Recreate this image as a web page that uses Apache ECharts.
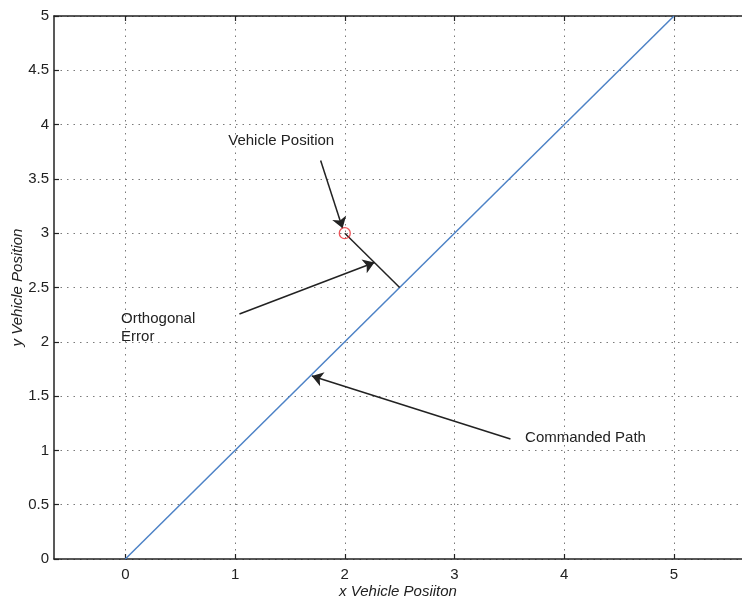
<!DOCTYPE html>
<html>
<head>
<meta charset="utf-8">
<script src="https://cdn.jsdelivr.net/npm/echarts@6/dist/echarts.min.js"></script>
<style>
  html, body { margin: 0; padding: 0; background: #fff; }
  #chart { width: 742px; height: 596px; }
</style>
</head>
<body>
<div id="chart"></div>
<script>
// Axis ticks
const xTicks = [0, 1, 2, 3, 4, 5];
const yTicks = [0, 0.5, 1, 1.5, 2, 2.5, 3, 3.5, 4, 4.5, 5];

// Commanded path (straight line through the origin)
const pathX = [0, 5];
const pathY = [0, 5];

// Vehicle position and its orthogonal projection onto the path
const vehiclePos = [2, 3];
const pathFoot = [2.5, 2.5];

// Annotation arrows: tail -> head, in data units
const arrowFrom = [[1.78, 3.67], [1.04, 2.256], [3.51, 1.105]];
const arrowTo = [[1.98, 3.045], [2.27, 2.73], [1.70, 1.685]];

// Annotation texts and their left/middle anchor points
const noteText = ['Vehicle Position', 'Orthogonal\nError', 'Commanded Path'];
const noteAt = [[0.938, 3.853], [-0.039, 2.127], [3.643, 1.114]];

const FONT = 'Liberation Sans, Arial, Helvetica, sans-serif';
const INK = '#222';

const chart = echarts.init(document.getElementById('chart'), null, { renderer: 'canvas' });

const gridLine = { show: true, lineStyle: { color: '#7a7a7a', width: 1, type: [1.5, 5] } };

chart.setOption({
  animation: false,
  backgroundColor: '#fff',
  grid: { left: 54, right: 0, top: 16, bottom: 37, containLabel: false, outerBoundsMode: 'none' },
  xAxis: [{
    type: 'value',
    min: -0.65,
    max: 5.62,
    position: 'bottom',
    name: 'x Vehicle Posiiton',
    nameLocation: 'middle',
    nameMoveOverlap: false,
    nameGap: 25,
    nameTextStyle: { fontFamily: FONT, fontSize: 15, fontStyle: 'italic', color: INK },
    axisLine: { show: true, onZero: false, lineStyle: { color: INK, width: 1.5 } },
    axisTick: { show: true, inside: true, length: 5, customValues: xTicks, lineStyle: { color: INK, width: 1.2 } },
    axisLabel: { show: true, customValues: xTicks, margin: 8, fontFamily: FONT, fontSize: 15, color: INK },
    splitLine: gridLine
  }, {
    type: 'value',
    min: -0.65,
    max: 5.62,
    position: 'top',
    axisLine: { show: true, onZero: false, lineStyle: { color: INK, width: 1.5 } },
    axisTick: { show: true, inside: true, length: 5, customValues: xTicks, lineStyle: { color: INK, width: 1.2 } },
    axisLabel: { show: false },
    splitLine: { show: false }
  }],
  yAxis: [{
    type: 'value',
    min: 0,
    max: 5,
    interval: 0.5,
    name: 'y Vehicle Position',
    nameLocation: 'middle',
    nameMoveOverlap: false,
    nameGap: 29,
    nameTextStyle: { fontFamily: FONT, fontSize: 15, fontStyle: 'italic', color: INK },
    axisLine: { show: true, onZero: false, lineStyle: { color: INK, width: 1.5 } },
    axisTick: { show: true, inside: true, length: 5, lineStyle: { color: INK, width: 1.2 } },
    axisLabel: { show: true, margin: 5, fontFamily: FONT, fontSize: 15, color: INK },
    splitLine: gridLine
  }],
  series: [
    {
      name: 'Commanded Path',
      type: 'line',
      data: pathX.map((x, i) => [x, pathY[i]]),
      showSymbol: false,
      lineStyle: { color: '#4d82c6', width: 1.5 },
      silent: true,
      z: 3
    },
    {
      name: 'Orthogonal Error',
      type: 'line',
      data: [vehiclePos, pathFoot],
      showSymbol: false,
      lineStyle: { color: INK, width: 1.5 },
      silent: true,
      z: 3
    },
    {
      name: 'Arrows',
      type: 'lines',
      coordinateSystem: 'cartesian2d',
      polyline: false,
      data: arrowFrom.map((p, i) => ({ coords: [p, arrowTo[i]] })),
      symbol: ['none', 'arrow'],
      symbolSize: 11,
      lineStyle: { color: INK, width: 1.5, opacity: 1 },
      itemStyle: { color: INK },
      silent: true,
      z: 4
    },
    {
      name: 'Vehicle',
      type: 'scatter',
      data: [vehiclePos],
      symbol: 'circle',
      symbolSize: 11,
      itemStyle: { color: 'rgba(0,0,0,0)', borderColor: '#e8282e', borderWidth: 1.3 },
      silent: true,
      z: 5
    },
    {
      name: 'Notes',
      type: 'scatter',
      data: noteAt.map((p, i) => ({ value: p, name: noteText[i] })),
      symbolSize: 0,
      label: {
        show: true,
        position: 'right',
        distance: 0,
        formatter: (p) => p.name,
        fontFamily: FONT,
        fontSize: 15,
        lineHeight: 18,
        color: INK,
        opacity: 1,
        align: 'left',
        verticalAlign: 'middle'
      },
      silent: true,
      z: 6
    }
  ]
});
</script>
</body>
</html>
